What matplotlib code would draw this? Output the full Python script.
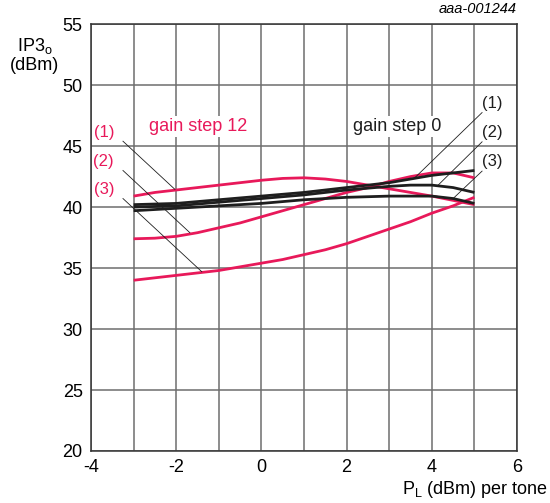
import matplotlib.pyplot as plt

plt.rcParams['font.family'] = ['Liberation Sans', 'DejaVu Sans']
plt.rcParams['axes.unicode_minus'] = False

RED = '#e8195a'
BLACK = '#1e1e1e'

pl = [-3, -2.5, -2, -1.5, -1, -0.5, 0, 0.5, 1, 1.5, 2, 2.5, 3, 3.5, 4, 4.5, 5]

# gain step 12
red_1 = [40.9, 41.2, 41.4, 41.6, 41.8, 42.0, 42.2, 42.35, 42.4, 42.3, 42.1, 41.8, 41.5, 41.2, 40.9, 40.55, 40.2]
red_2 = [37.4, 37.45, 37.6, 37.9, 38.3, 38.7, 39.2, 39.7, 40.2, 40.7, 41.2, 41.6, 42.1, 42.5, 42.8, 42.8, 42.4]
red_3 = [34.0, 34.2, 34.4, 34.6, 34.8, 35.1, 35.4, 35.7, 36.1, 36.5, 37.0, 37.6, 38.2, 38.8, 39.5, 40.1, 40.8]

# gain step 0
blk_1 = [40.2, 40.25, 40.3, 40.45, 40.6, 40.75, 40.9, 41.05, 41.2, 41.4, 41.6, 41.8, 42.0, 42.3, 42.6, 42.8, 43.0]
blk_2 = [40.0, 40.05, 40.1, 40.25, 40.4, 40.55, 40.7, 40.85, 41.0, 41.2, 41.4, 41.55, 41.7, 41.8, 41.8, 41.6, 41.2]
blk_3 = [39.7, 39.8, 39.9, 40.0, 40.1, 40.2, 40.3, 40.45, 40.6, 40.7, 40.8, 40.85, 40.9, 40.9, 40.9, 40.7, 40.3]

x_ticks = [-4, -2, 0, 2, 4, 6]
y_ticks = [20, 25, 30, 35, 40, 45, 50, 55]

fig = plt.figure(figsize=(5.5, 5.03), dpi=100)
ax = fig.add_axes([0.1655, 0.1034, 0.7745, 0.8486])

ax.set_xlim(-4, 6)
ax.set_ylim(20, 55)
ax.set_xticks(x_ticks)
ax.set_yticks(y_ticks)
ax.set_xticks(range(-4, 7), minor=True)
ax.grid(True, which='both', axis='x', color='#6e6e6e', lw=1.1)
ax.grid(True, which='major', axis='y', color='#6e6e6e', lw=1.1)
ax.tick_params(which='both', length=0, labelsize=13, pad=6)
for s in ax.spines.values():
    s.set_color('#333333')
    s.set_linewidth(1.1)

for ys in (red_1, red_2, red_3):
    ax.plot(pl, ys, color=RED, lw=2, zorder=3, solid_capstyle='butt')
for ys in (blk_1, blk_2, blk_3):
    ax.plot(pl, ys, color=BLACK, lw=2, zorder=3, solid_capstyle='butt')

box = dict(facecolor='white', edgecolor='none', pad=1.5)
ax.text(-2.65, 46.6, 'gain step 12', color=RED, fontsize=13, ha='left', va='center', bbox=box, zorder=4)
ax.text(2.15, 46.6, 'gain step 0', color=BLACK, fontsize=13, ha='left', va='center', bbox=box, zorder=4)

# leader labels
red_lbl = [('(1)', 46.15, (-2.03, 41.45)), ('(2)', 43.75, (-1.68, 37.9)), ('(3)', 41.45, (-1.4, 34.7))]
for txt, ly, pt in red_lbl:
    ax.text(-3.7, ly, txt, color=RED, fontsize=12, ha='center', va='center', zorder=4)
    ax.plot([-3.25, pt[0]], [ly - 0.75, pt[1]], color=BLACK, lw=0.6, zorder=4)

blk_lbl = [('(1)', 48.5, (3.6, 42.4)), ('(2)', 46.1, (4.12, 41.7)), ('(3)', 43.7, (4.5, 40.7))]
for txt, ly, pt in blk_lbl:
    ax.text(5.42, ly, txt, color=BLACK, fontsize=12, ha='center', va='center', zorder=4)
    ax.plot([5.18, pt[0]], [ly - 0.75, pt[1]], color=BLACK, lw=0.6, zorder=4, clip_on=False)

fig.text(35 / 550, 1 - 55 / 503, 'IP3$_\\mathregular{o}$\n(dBm)', fontsize=13, ha='center', va='center', linespacing=1.1)
fig.text(517 / 550, 1 - 9 / 503, 'aaa-001244', fontsize=10.5, style='italic', ha='right', va='center')
fig.text(548 / 550, 1 - 489 / 503, 'P$_\\mathregular{L}$ (dBm) per tone', fontsize=13, ha='right', va='center')

fig.savefig('out.png', dpi=100)
